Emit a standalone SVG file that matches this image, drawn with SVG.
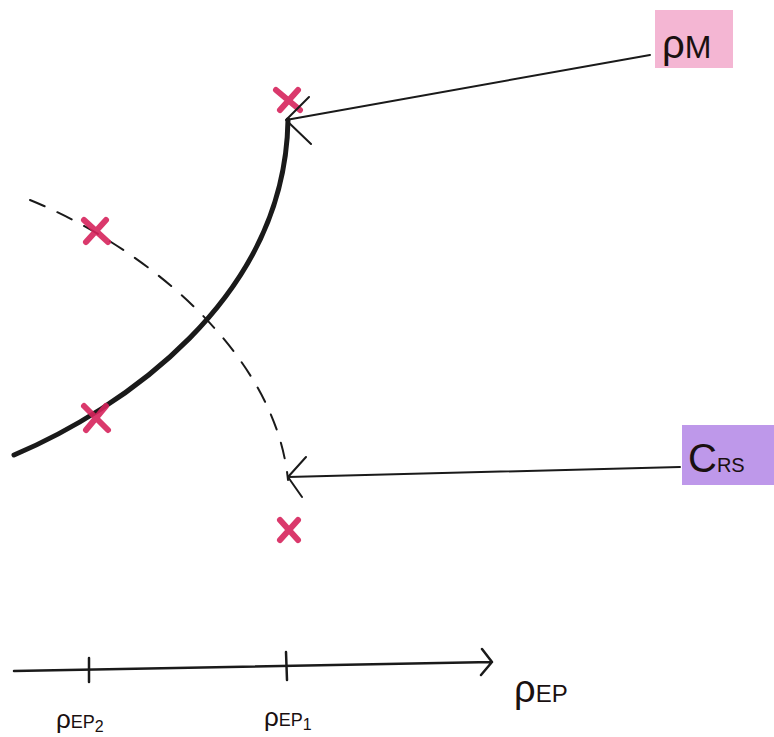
<svg xmlns="http://www.w3.org/2000/svg" width="774" height="737" viewBox="0 0 774 737">
<style>
.ink{fill:none;stroke:#1a1a1a;stroke-linecap:round;stroke-linejoin:round}
.x{stroke:#d6245c;stroke-width:6;stroke-linecap:round;fill:none;opacity:0.9}
.t{font-family:"Liberation Sans",Arial,sans-serif;fill:#1a1010}
</style>
<rect width="774" height="737" fill="#ffffff"/>
<g id="curves">
<path id="solid-curve" class="ink" stroke-width="5" d="M 14 455 C 120 410, 285 300, 288 120"/>
<path id="dashed-curve" class="ink" stroke-width="2" stroke-dasharray="16 14" d="M 30 200 C 140 245, 275 350, 288 480"/>
</g>
<g id="markers">
<g id="x1"><path class="x" d="M276 90 L300 110 M298 90 L280 110"/></g>
<g id="x2"><path class="x" d="M84 220 L108 242 M106 220 L86 242"/></g>
<g id="x3"><path class="x" d="M84 406 L108 430 M106 406 L86 430"/></g>
<g id="x4"><path class="x" d="M280 520 L298 540 M298 520 L280 540"/></g>
</g>
<g id="connectors">
<path class="ink" stroke-width="2" d="M 650 55 L 286 120 M 309 97 L 286 120 L 311 144"/>
<path class="ink" stroke-width="2" d="M 680 467 L 288 477 M 306 457 L 288 477 L 302 497"/>
</g>
<g id="axis">
<path class="ink" stroke-width="2.5" d="M 14 671 L 492 662 M 482 649 L 492 662 L 481 675"/>
<path class="ink" stroke-width="2.5" d="M 89 658 L 89 682 M 286 652 L 287 680"/>
<text class="t" x="514" y="702" font-size="38">ρ<tspan font-size="24">EP</tspan></text>
<text class="t" x="56" y="728" font-size="26">ρ<tspan font-size="18">EP<tspan font-size="16" dy="4">2</tspan></tspan></text>
<text class="t" x="264" y="726" font-size="26">ρ<tspan font-size="18">EP<tspan font-size="16" dy="4">1</tspan></tspan></text>
</g>
<g id="node-pm">
<rect x="655" y="10" width="78" height="58" fill="#f2a9cb" opacity="0.85"/>
<text class="t" x="662" y="58" font-size="40">ρ<tspan font-size="32">M</tspan></text>
</g>
<g id="node-crs">
<rect x="682" y="425" width="92" height="60" fill="#b78de8" opacity="0.9"/>
<text class="t" x="688" y="472" font-size="40">C<tspan font-size="20">RS</tspan></text>
</g>
</svg>
